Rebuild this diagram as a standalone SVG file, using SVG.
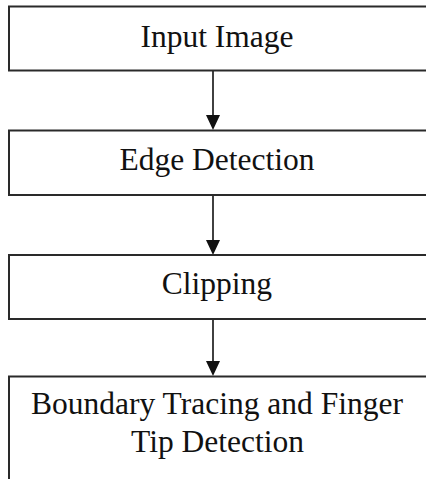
<svg xmlns="http://www.w3.org/2000/svg" width="426" height="479" viewBox="0 0 426 479">
  <style>
    .box { fill: #ffffff; stroke: #2a2a2a; stroke-width: 2; }
    .label { font-family: "Liberation Serif", "Times New Roman", serif; font-size: 31.5px; fill: #111111; text-anchor: middle; }
    .link { stroke: #111111; stroke-width: 1.6; fill: none; }
    .head { fill: #111111; }
  </style>
  <rect width="426" height="479" fill="#ffffff"/>

  <g id="connectors">
    <line class="link" x1="213" y1="71" x2="213" y2="116"/>
    <polygon class="head" points="206,115 220,115 213,130"/>
    <line class="link" x1="213" y1="195" x2="213" y2="241"/>
    <polygon class="head" points="206,240 220,240 213,255"/>
    <line class="link" x1="213" y1="319" x2="213" y2="362"/>
    <polygon class="head" points="206,361 220,361 213,376"/>
  </g>

  <g id="input-image">
    <rect class="box" x="9" y="6.5" width="430" height="64"/>
    <text class="label" x="217" y="47">Input Image</text>
  </g>

  <g id="edge-detection">
    <rect class="box" x="9" y="130.5" width="430" height="64.5"/>
    <text class="label" x="217" y="170">Edge Detection</text>
  </g>

  <g id="clipping">
    <rect class="box" x="9" y="255" width="430" height="64"/>
    <text class="label" x="217" y="294">Clipping</text>
  </g>

  <g id="boundary-tracing">
    <rect class="box" x="9" y="376.5" width="430" height="120"/>
    <text class="label" x="217" y="414">Boundary Tracing and Finger</text>
    <text class="label" x="217.5" y="452">Tip Detection</text>
  </g>
</svg>
